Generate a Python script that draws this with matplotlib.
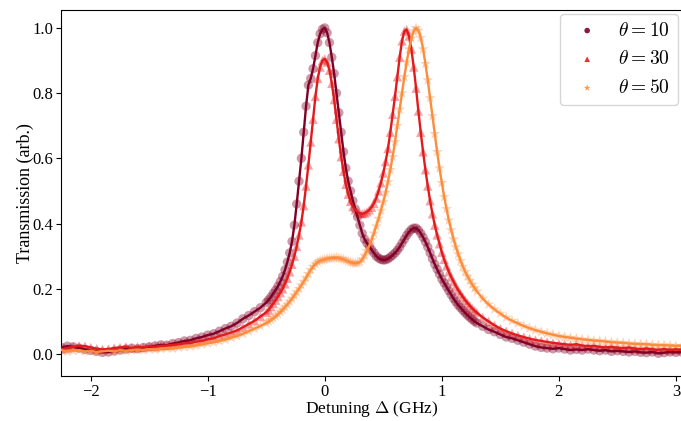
import numpy as np
import matplotlib
matplotlib.use("Agg")
import matplotlib.pyplot as plt

plt.rcParams['font.family'] = ['Liberation Serif', 'DejaVu Serif']
plt.rcParams['mathtext.fontset'] = 'cm'

# Detuning grid (GHz): coarse in the tails, finer around the resonances
detuning_left = [-2.25, -2.20, -2.15, -2.10, -2.05, -2.00, -1.95, -1.90, -1.85, -1.80,
                 -1.75, -1.70, -1.65, -1.60, -1.55, -1.50, -1.45, -1.40, -1.35, -1.30,
                 -1.25, -1.20, -1.15, -1.10, -1.05, -1.00, -0.95, -0.90, -0.85, -0.80,
                 -0.75, -0.70, -0.65, -0.60, -0.55]
detuning_mid = [-0.50, -0.48, -0.46, -0.44, -0.42, -0.40, -0.38, -0.36, -0.34, -0.32,
                -0.30, -0.28, -0.26, -0.24, -0.22, -0.20, -0.18, -0.16, -0.14, -0.12,
                -0.10, -0.08, -0.06, -0.04, -0.02, 0.00, 0.02, 0.04, 0.06, 0.08,
                0.10, 0.12, 0.14, 0.16, 0.18, 0.20, 0.22, 0.24, 0.26, 0.28,
                0.30, 0.32, 0.34, 0.36, 0.38, 0.40, 0.42, 0.44, 0.46, 0.48,
                0.50, 0.52, 0.54, 0.56, 0.58, 0.60, 0.62, 0.64, 0.66, 0.68,
                0.70, 0.72, 0.74, 0.76, 0.78, 0.80, 0.82, 0.84, 0.86, 0.88,
                0.90, 0.92, 0.94, 0.96, 0.98, 1.00, 1.02, 1.04, 1.06, 1.08,
                1.10, 1.12, 1.14, 1.16, 1.18, 1.20, 1.22, 1.24, 1.26, 1.28, 1.30]
detuning_right = [1.35, 1.40, 1.45, 1.50, 1.55, 1.60, 1.65, 1.70, 1.75, 1.80,
                  1.85, 1.90, 1.95, 2.00, 2.05, 2.10, 2.15, 2.20, 2.25, 2.30,
                  2.35, 2.40, 2.45, 2.50, 2.55, 2.60, 2.65, 2.70, 2.75, 2.80,
                  2.85, 2.90, 2.95, 3.00, 3.05]

# theta = 10
t10_left = [0.020, 0.024, 0.022, 0.018, 0.014, 0.011, 0.008, 0.005, 0.006, 0.009,
            0.012, 0.015, 0.018, 0.016, 0.020, 0.022, 0.025, 0.028, 0.027, 0.032,
            0.035, 0.040, 0.042, 0.048, 0.052, 0.058, 0.062, 0.070, 0.078, 0.085,
            0.095, 0.108, 0.118, 0.130, 0.142]
t10_mid = [0.158, 0.166, 0.175, 0.186, 0.196, 0.208, 0.222, 0.238, 0.258, 0.282,
           0.310, 0.345, 0.395, 0.460, 0.530, 0.600, 0.680, 0.760, 0.825, 0.845,
           0.875, 0.915, 0.955, 0.982, 0.996, 1.000, 0.985, 0.955, 0.910, 0.860,
           0.800, 0.740, 0.680, 0.620, 0.570, 0.530, 0.500, 0.470, 0.445, 0.420,
           0.395, 0.370, 0.352, 0.340, 0.330, 0.320, 0.310, 0.300, 0.294, 0.290,
           0.288, 0.289, 0.292, 0.297, 0.303, 0.310, 0.318, 0.328, 0.340, 0.352,
           0.364, 0.374, 0.382, 0.386, 0.386, 0.380, 0.370, 0.358, 0.344, 0.328,
           0.310, 0.292, 0.275, 0.260, 0.245, 0.230, 0.218, 0.206, 0.194, 0.182,
           0.170, 0.160, 0.150, 0.142, 0.134, 0.126, 0.119, 0.112, 0.106, 0.100, 0.095]
t10_right = [0.085, 0.075, 0.068, 0.060, 0.052, 0.048, 0.042, 0.036, 0.030, 0.024,
             0.020, 0.018, 0.016, 0.018, 0.015, 0.012, 0.014, 0.012, 0.015, 0.012,
             0.010, 0.012, 0.008, 0.010, 0.008, 0.006, 0.008, 0.005, 0.004, 0.006,
             0.002, 0.004, 0.006, 0.005, 0.006]

# theta = 30
t30_left = [0.015, 0.018, 0.022, 0.025, 0.024, 0.020, 0.016, 0.014, 0.015, 0.018,
            0.020, 0.022, 0.018, 0.022, 0.020, 0.024, 0.022, 0.025, 0.026, 0.028,
            0.030, 0.033, 0.034, 0.038, 0.040, 0.045, 0.048, 0.055, 0.060, 0.066,
            0.072, 0.082, 0.092, 0.102, 0.115]
t30_mid = [0.128, 0.135, 0.145, 0.155, 0.165, 0.176, 0.188, 0.200, 0.215, 0.232,
           0.252, 0.275, 0.300, 0.330, 0.365, 0.405, 0.455, 0.515, 0.580, 0.650,
           0.720, 0.790, 0.845, 0.880, 0.900, 0.905, 0.895, 0.870, 0.830, 0.780,
           0.720, 0.660, 0.605, 0.560, 0.520, 0.490, 0.468, 0.452, 0.442, 0.436,
           0.432, 0.430, 0.432, 0.436, 0.442, 0.450, 0.462, 0.478, 0.500, 0.525,
           0.555, 0.590, 0.630, 0.680, 0.735, 0.790, 0.850, 0.910, 0.960, 0.990,
           0.995, 0.975, 0.935, 0.880, 0.815, 0.745, 0.680, 0.620, 0.565, 0.515,
           0.470, 0.430, 0.395, 0.365, 0.338, 0.312, 0.290, 0.270, 0.252, 0.236,
           0.222, 0.208, 0.196, 0.185, 0.175, 0.165, 0.156, 0.148, 0.140, 0.133, 0.127]
t30_right = [0.112, 0.100, 0.088, 0.078, 0.070, 0.063, 0.057, 0.052, 0.047, 0.043,
             0.040, 0.037, 0.034, 0.032, 0.030, 0.028, 0.030, 0.026, 0.024, 0.025,
             0.022, 0.020, 0.022, 0.019, 0.018, 0.020, 0.016, 0.015, 0.017, 0.014,
             0.013, 0.015, 0.012, 0.014, 0.013]

# theta = 50
t50_left = [0.012, 0.008, 0.010, 0.012, 0.008, 0.010, 0.006, 0.008, 0.010, 0.008,
            0.012, 0.010, 0.012, 0.014, 0.012, 0.015, 0.014, 0.016, 0.018, 0.017,
            0.020, 0.022, 0.024, 0.026, 0.030, 0.033, 0.036, 0.040, 0.044, 0.050,
            0.055, 0.062, 0.070, 0.078, 0.086]
t50_mid = [0.095, 0.100, 0.105, 0.110, 0.116, 0.122, 0.129, 0.136, 0.144, 0.152,
           0.161, 0.170, 0.180, 0.190, 0.200, 0.211, 0.222, 0.234, 0.246, 0.258,
           0.268, 0.276, 0.282, 0.286, 0.288, 0.290, 0.292, 0.293, 0.294, 0.295,
           0.295, 0.294, 0.292, 0.290, 0.287, 0.284, 0.281, 0.279, 0.278, 0.279,
           0.282, 0.290, 0.302, 0.316, 0.332, 0.350, 0.370, 0.392, 0.415, 0.440,
           0.466, 0.495, 0.528, 0.565, 0.605, 0.650, 0.700, 0.750, 0.800, 0.850,
           0.895, 0.935, 0.968, 0.990, 1.000, 0.992, 0.970, 0.935, 0.890, 0.840,
           0.785, 0.730, 0.675, 0.620, 0.570, 0.525, 0.482, 0.445, 0.410, 0.380,
           0.352, 0.328, 0.306, 0.286, 0.268, 0.252, 0.238, 0.225, 0.213, 0.202, 0.192]
t50_right = [0.170, 0.152, 0.137, 0.124, 0.112, 0.102, 0.094, 0.086, 0.079, 0.073,
             0.068, 0.063, 0.059, 0.055, 0.052, 0.050, 0.047, 0.045, 0.043, 0.041,
             0.040, 0.038, 0.036, 0.035, 0.034, 0.032, 0.031, 0.030, 0.030, 0.028,
             0.027, 0.027, 0.026, 0.025, 0.025]

detuning = np.array(detuning_left + detuning_mid + detuning_right)
series = [
    (t10_left + t10_mid + t10_right, '#800026', 'o', 45, r'$\theta = 10$'),
    (t30_left + t30_mid + t30_right, '#e31a1c', '^', 45, r'$\theta = 30$'),
    (t50_left + t50_mid + t50_right, '#fd8d3c', '*', 70, r'$\theta = 50$'),
]

fig = plt.figure(figsize=(6.81, 4.21), dpi=100)
ax = fig.add_axes([61.5 / 681, 45 / 421, 1 - 61.5 / 681 + 0.001, 366 / 421])

for vals, color, marker, size, label in series:
    ax.scatter(detuning, vals, s=size, marker=marker,
               color=color, alpha=0.4, edgecolors='none', label=label, zorder=2)
    ax.plot(detuning, vals, color=color, lw=1.7, zorder=3)

ax.set_xlim(-2.25, 3.05)
ax.set_ylim(-0.0675, 1.055)
ax.set_xticks([-2, -1, 0, 1, 2, 3])
ax.set_yticks([0.0, 0.2, 0.4, 0.6, 0.8, 1.0])
ax.tick_params(labelsize=12, pad=2.5)
ax.set_xlabel(r'Detuning $\Delta$ (GHz)', fontsize=12.5, labelpad=-1)
ax.set_ylabel('Transmission (arb.)', fontsize=13, labelpad=-1)
ax.spines['right'].set_visible(False)

leg = ax.legend(loc='upper right', fontsize=14, markerscale=0.6, handletextpad=0.6,
                borderaxespad=0.2, labelspacing=0.55)
for h in leg.legend_handles:
    h.set_alpha(0.9)

fig.savefig('out.png', dpi=100)
